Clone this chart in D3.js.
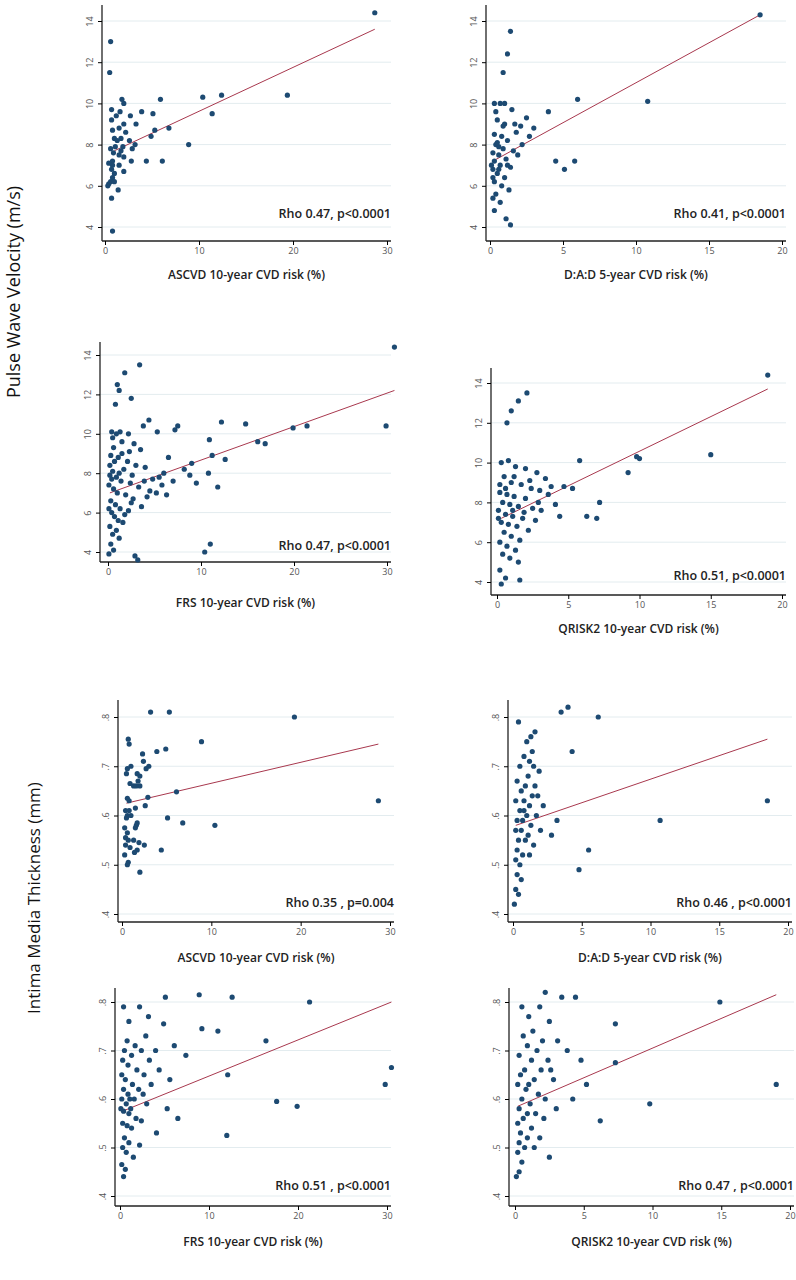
<!DOCTYPE html>
<html><head><meta charset="utf-8">
<script src="https://cdn.jsdelivr.net/npm/d3@7"></script>
<style>body{margin:0;background:#fff}svg{display:block}</style></head>
<body><svg id="c" width="796" height="1280"></svg>
<script>
const pwvTicks=[4,6,8,10,12,14];
const imtTicks=[.4,.5,.6,.7,.8];
const xTicks30=[0,10,20,30];
const xTicks20=[0,5,10,15,20];
const xLabels=["ASCVD 10-year CVD risk (%)","D:A:D 5-year CVD risk (%)","FRS 10-year CVD risk (%)","QRISK2 10-year CVD risk (%)","ASCVD 10-year CVD risk (%)","D:A:D 5-year CVD risk (%)","FRS 10-year CVD risk (%)","QRISK2 10-year CVD risk (%)"];
const rhoLabels=["Rho 0.47, p<0.0001","Rho 0.41, p<0.0001","Rho 0.47, p<0.0001","Rho 0.51, p<0.0001","Rho 0.35 , p=0.004","Rho 0.46 , p<0.0001","Rho 0.51 , p<0.0001","Rho 0.47 , p<0.0001"];
const fitLines=[[1,7.7,28.7,13.6],[0.2,7.2,18.5,14.3],[0.2,7.0,30.8,12.2],[0.3,7.2,19,13.7],[0.5,.625,28.7,.745],[0.2,.58,18.5,.755],[0.3,.575,30.5,.80],[0.2,.585,19,.815]];
const pwvAscvd=[[28.7,14.4],[0.6,13.0],[0.5,11.5],[1.8,10.2],[2,10],[5.9,10.2],[10.4,10.3],[12.4,10.4],[19.4,10.4],[11.4,9.5],[0.7,9.7],[3.9,9.6],[5.1,9.5],[2.7,9.4],[1.2,9.4],[0.7,9.2],[1.6,9.6],[3.3,9.0],[2,9.0],[6.8,8.8],[5.3,8.7],[0.8,8.7],[1.5,8.8],[2.2,8.6],[4.9,8.4],[1.7,8.3],[2.6,8.2],[1.0,8.3],[1.3,8.2],[8.9,8.0],[3.2,8.0],[0.6,7.8],[1.1,7.9],[1.9,7.9],[2.9,7.8],[1.7,7.7],[0.9,7.6],[1.5,7.5],[2.0,7.4],[0.8,7.2],[4.4,7.2],[6.1,7.2],[2.8,7.2],[0.4,7.1],[0.8,7.0],[1.5,7.0],[0.7,6.8],[2.0,6.7],[1.0,6.6],[0.8,6.4],[0.6,6.2],[1.0,6.2],[0.4,6.1],[0.3,6.0],[1.4,5.8],[0.7,5.4],[0.8,3.8]];
const pwvDad=[[18.5,14.3],[1.4,13.5],[1.2,12.4],[0.9,11.5],[6,10.2],[10.8,10.1],[0.3,10.0],[0.7,10.0],[1.5,9.7],[4.0,9.6],[2.5,9.3],[0.5,9.2],[1.0,9.0],[3.0,8.8],[1.8,8.6],[0.3,8.5],[0.8,8.4],[1.2,8.2],[2.2,8.0],[0.4,8.0],[0.9,7.8],[1.6,7.7],[0.2,7.6],[0.6,7.5],[1.1,7.3],[0.3,7.2],[4.5,7.2],[5.8,7.2],[0.7,7.0],[1.4,6.9],[0.2,6.8],[5.1,6.8],[0.5,6.6],[1.0,6.4],[0.3,6.2],[0.8,6.0],[1.3,5.8],[0.4,5.6],[0.2,5.4],[0.7,5.2],[0.3,4.8],[1.1,4.4],[1.4,4.1],[0.6,7.9],[1.9,7.5],[2.7,8.4],[0.1,7.0],[0.4,9.6],[1.7,9.0],[0.9,8.9],[0.5,8.1],[1.2,7.0],[0.2,6.4],[0.6,6.8],[2.1,8.9],[1.0,10.0]];
const pwvFrs=[[30.8,14.4],[3.4,13.5],[1.8,13.1],[1.0,12.5],[1.2,12.2],[2.5,11.8],[0.8,11.5],[12.2,10.6],[14.8,10.5],[21.4,10.4],[29.9,10.4],[19.9,10.3],[7.5,10.4],[7.2,10.2],[4.4,10.7],[3.8,10.4],[2.2,10.0],[0.4,10.1],[0.9,10.0],[5.3,10.1],[10.9,9.7],[16.1,9.6],[16.9,9.5],[11.2,8.9],[9.0,8.5],[8.2,8.2],[12.6,8.7],[10.8,8.0],[11.8,7.3],[6.0,8.0],[5.5,7.8],[4.8,7.7],[6.5,8.8],[3.5,9.2],[2.8,9.5],[1.5,9.6],[0.6,9.3],[0.3,8.9],[1.1,8.8],[2.1,8.6],[3.0,8.4],[4.0,8.3],[1.7,8.2],[0.5,8.1],[0.2,7.9],[0.9,7.8],[1.4,7.6],[2.4,7.5],[3.3,7.3],[4.5,7.1],[5.2,7.0],[0.1,7.4],[0.6,7.2],[1.0,7.0],[1.9,6.9],[2.7,6.7],[0.3,6.6],[0.8,6.4],[1.3,6.2],[2.2,6.1],[3.6,6.3],[0.4,6.0],[0.7,5.8],[1.1,5.6],[1.6,5.5],[0.2,5.3],[0.9,5.1],[0.5,4.9],[1.2,4.7],[0.3,4.4],[0.6,4.1],[2.9,3.8],[3.2,3.6],[10.4,4.0],[11.0,4.4],[0.1,3.9],[0.4,7.7],[1.2,8.0],[2.6,7.9],[3.9,7.6],[5.8,7.4],[7.0,7.6],[8.8,7.9],[9.5,7.5],[0.2,8.4],[0.7,8.6],[1.5,9.0],[2.3,9.1],[0.1,6.2],[1.8,5.9],[2.5,6.5],[4.2,6.8],[6.3,6.9],[0.5,9.8],[1.3,10.1]];
const pwvQrisk=[[19.0,14.4],[2.1,13.5],[1.5,13.1],[1.0,12.6],[0.7,12.0],[15.0,10.4],[10.0,10.2],[9.8,10.3],[9.2,9.5],[5.8,10.1],[4.7,8.8],[5.3,8.7],[7.2,8.0],[7.0,7.2],[6.3,7.3],[0.3,10.0],[0.8,10.1],[1.3,9.8],[2.0,9.7],[2.8,9.5],[3.4,9.2],[0.5,9.3],[1.0,9.0],[1.7,8.9],[2.4,8.7],[3.0,8.6],[0.2,8.5],[0.7,8.4],[1.2,8.3],[2.0,8.2],[3.6,8.4],[0.4,8.0],[0.9,7.9],[1.5,7.8],[2.5,7.7],[3.1,7.6],[4.1,7.9],[0.1,7.6],[0.6,7.4],[1.1,7.3],[1.8,7.2],[2.7,7.1],[0.3,7.0],[0.8,6.9],[1.4,6.8],[2.2,6.6],[0.5,6.5],[1.0,6.3],[1.6,6.1],[0.2,6.0],[0.7,5.8],[1.3,5.6],[0.4,5.4],[0.9,5.2],[1.5,5.0],[0.2,4.6],[0.6,4.2],[1.6,4.1],[0.3,3.9],[0.1,7.2],[1.9,7.5],[2.9,8.0],[3.8,8.8],[0.6,8.7],[1.2,9.3],[2.3,9.1],[4.4,7.3],[0.2,8.9],[1.1,7.6]];
const imtAscvd=[[3.2,.81],[5.3,.81],[19.3,.80],[8.9,.75],[0.7,.755],[0.8,.745],[3.9,.73],[4.9,.735],[2.3,.725],[2.4,.71],[1.0,.70],[3.0,.70],[2.7,.695],[0.6,.695],[0.5,.685],[1.7,.685],[2.0,.68],[1.8,.67],[2.0,.66],[0.9,.665],[1.3,.66],[1.6,.66],[6.1,.648],[2.9,.637],[0.6,.635],[0.8,.63],[2.6,.62],[28.7,.63],[1.5,.615],[0.4,.61],[0.8,.61],[0.6,.60],[1.0,.60],[0.5,.595],[5.1,.595],[6.8,.585],[10.4,.58],[1.7,.585],[1.6,.58],[0.3,.575],[1.5,.575],[0.6,.565],[0.4,.555],[1.3,.55],[0.7,.55],[1.9,.545],[2.5,.54],[0.4,.54],[0.9,.535],[4.4,.53],[1.7,.53],[1.4,.525],[0.3,.52],[0.7,.505],[0.6,.50],[2.0,.485]];
const imtDad=[[3.5,.81],[4.0,.82],[6.2,.80],[0.4,.79],[1.6,.77],[1.3,.76],[1.0,.75],[4.3,.73],[1.4,.73],[0.8,.72],[1.2,.71],[0.5,.70],[1.5,.70],[1.9,.69],[1.1,.68],[0.3,.67],[0.9,.66],[1.6,.66],[0.6,.65],[1.4,.64],[0.2,.63],[0.8,.63],[1.2,.62],[18.5,.63],[2.2,.62],[0.5,.61],[1.0,.60],[1.7,.60],[0.3,.59],[0.7,.59],[10.7,.59],[1.3,.58],[0.2,.57],[0.6,.57],[1.1,.56],[2.8,.56],[0.4,.55],[0.9,.55],[1.5,.54],[0.3,.53],[5.5,.53],[0.7,.52],[0.2,.51],[1.2,.52],[0.5,.50],[4.8,.49],[0.3,.48],[0.6,.47],[0.2,.45],[0.4,.44],[0.1,.42],[2.0,.57],[3.2,.59],[0.8,.61],[1.8,.64]];
const imtFrs=[[8.9,.815],[5.1,.81],[12.6,.81],[21.3,.80],[0.4,.79],[2.2,.79],[3.2,.77],[1.0,.76],[4.9,.755],[9.2,.745],[11.0,.74],[16.4,.72],[2.9,.73],[0.8,.72],[1.7,.71],[0.5,.70],[2.4,.70],[4.0,.70],[6.1,.71],[1.3,.69],[3.3,.68],[0.3,.68],[7.4,.69],[0.9,.67],[1.9,.66],[2.7,.65],[4.4,.66],[5.6,.64],[12.1,.65],[0.2,.65],[0.6,.64],[1.4,.63],[2.1,.62],[3.5,.63],[29.8,.63],[0.4,.62],[0.9,.61],[1.6,.60],[2.6,.61],[17.6,.595],[19.9,.585],[0.2,.60],[0.7,.59],[1.2,.58],[3.0,.59],[5.3,.58],[0.4,.575],[1.0,.57],[1.8,.56],[2.4,.555],[6.5,.56],[0.3,.55],[0.8,.545],[1.3,.54],[4.1,.53],[12.0,.525],[0.5,.52],[1.0,.51],[2.2,.505],[0.3,.50],[0.7,.49],[1.5,.48],[0.2,.465],[0.6,.455],[0.4,.44],[30.5,.665],[1.1,.60],[0.1,.58]];
const imtQrisk=[[2.2,.82],[3.4,.81],[4.4,.81],[14.9,.80],[0.5,.79],[1.8,.79],[1.0,.77],[2.5,.76],[7.3,.755],[1.3,.74],[0.6,.73],[2.0,.72],[3.1,.72],[0.9,.71],[1.6,.70],[3.8,.70],[0.3,.69],[1.2,.68],[2.4,.68],[4.8,.68],[7.3,.675],[0.7,.66],[1.9,.66],[0.4,.65],[1.4,.64],[2.8,.64],[5.2,.63],[19.0,.63],[0.2,.63],[0.8,.62],[1.7,.61],[2.2,.60],[4.2,.60],[0.5,.60],[1.1,.59],[9.8,.59],[0.3,.58],[0.9,.57],[1.5,.57],[3.0,.58],[0.6,.56],[2.1,.56],[6.2,.555],[0.2,.55],[1.2,.54],[0.4,.53],[0.9,.52],[1.8,.52],[0.3,.51],[0.7,.50],[1.4,.50],[0.2,.49],[2.5,.48],[0.5,.47],[0.3,.45],[0.1,.44],[1.0,.63],[2.6,.66]];

const datasets=[pwvAscvd,pwvDad,pwvFrs,pwvQrisk,imtAscvd,imtDad,imtFrs,imtQrisk];
const layout=[
 [102,105,387,30,14,21,4,227,241,5,218,279],
 [486,490,782,20,14,21,4,227,241,5,218,279],
 [100,108,387,30,14,355,4,552,562,342,550,607],
 [491,497,782,20,14,383,4,582,595,368,580,633],
 [118,122,390,30,.8,717,.4,914,922,700,907,962],
 [508,513,788,20,.8,717,.4,914,922,700,907,962],
 [115,120,387,30,.8,1002,.4,1196,1206,988,1190,1246],
 [509,515,790,20,.8,1002,.4,1196,1206,988,1190,1246]];
const svg=d3.select("#c");
const font="'Open Sans', 'Liberation Sans', sans-serif";
layout.forEach((L,i)=>{
  const [ax,x0,x1,xm,yt,ytp,yb,ybp,ay,atop,rhoY,labY]=L;
  const x=d3.scaleLinear().domain([0,xm]).range([x0,x1]);
  const y=d3.scaleLinear().domain([yb,yt]).range([ybp,ytp]);
  const g=svg.append("g");
  const yT=i<4?pwvTicks:imtTicks;
  const right=x1+4;
  g.selectAll("line.grid").data(yT).join("line").attr("x1",ax).attr("x2",right).attr("y1",d=>y(d)).attr("y2",d=>y(d)).attr("stroke","#e3ecef").attr("stroke-width",1);
  const ya=g.append("g").attr("transform",`translate(${ax},0)`).call(d3.axisLeft(y).tickValues(yT).tickSize(4).tickFormat(i<4?d3.format("d"):(d=>d3.format(".1f")(d).replace(/^0/,""))));
  ya.select(".domain").attr("d",`M0,${atop}V${ay}`).attr("stroke","#222").attr("stroke-width",1.3);
  ya.selectAll(".tick text").attr("x",0).attr("y",0).attr("dy","0.32em").attr("transform","translate(-12,0) rotate(-90)").attr("text-anchor","middle").attr("font-size",9).attr("fill","#555").attr("font-family",font);
  const xa=g.append("g").attr("transform",`translate(0,${ay})`).call(d3.axisBottom(x).tickValues(i%2===0?xTicks30:xTicks20).tickSize(4));
  xa.select(".domain").attr("d",`M${ax},0H${right}`).attr("stroke","#222").attr("stroke-width",1.3);
  xa.selectAll("text").attr("font-size",9).attr("fill","#555").attr("font-family",font);
  const f=fitLines[i];
  g.append("line").attr("x1",x(f[0])).attr("y1",y(f[1])).attr("x2",x(f[2])).attr("y2",y(f[3])).attr("stroke","#a8384e").attr("stroke-width",1);
  g.selectAll("circle.pt").data(datasets[i]).join("circle").attr("cx",d=>x(d[0])).attr("cy",d=>y(d[1])).attr("r",2.6).attr("fill","#1d4a72");
  g.append("text").attr("x",right).attr("y",rhoY).attr("text-anchor","end").attr("font-size",12.5).attr("font-weight",600).attr("fill","#222").attr("font-family",font).text(rhoLabels[i]);
  g.append("text").attr("x",(ax+right)/2).attr("y",labY).attr("text-anchor","middle").attr("font-size",12).attr("font-weight",600).attr("fill","#222").attr("font-family",font).text(xLabels[i]);
});
svg.append("text").attr("transform","translate(20,292) rotate(-90)").attr("text-anchor","middle").attr("font-size",18).attr("font-weight",500).attr("fill","#111").attr("font-family",font).text("Pulse Wave Velocity (m/s)");
svg.append("text").attr("transform","translate(40,898) rotate(-90)").attr("text-anchor","middle").attr("font-size",17).attr("font-weight",500).attr("fill","#111").attr("font-family",font).text("Intima Media Thickness (mm)");
</script></body></html>
